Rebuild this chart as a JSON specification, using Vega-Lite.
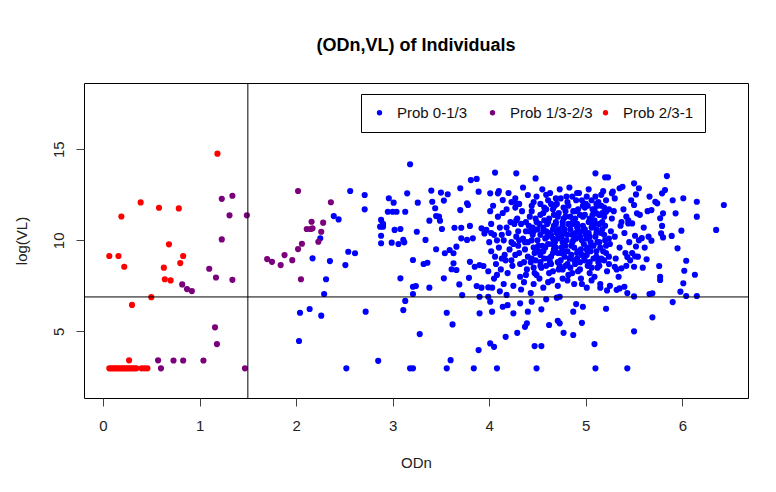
{
"$schema": "https://vega.github.io/schema/vega-lite/v6.json",
"width": 664, "height": 315,
"autosize": {"type": "none"},
"padding": {"left": 84, "top": 83, "right": 28, "bottom": 94},
"background": "white",
"title": {"text": "(ODn,VL) of Individuals", "fontSize": 18, "font": "Liberation Sans", "fontWeight": "bold", "anchor": "middle", "offset": 28, "color": "black"},
"config": {"view": {"stroke": "black", "strokeWidth": 1}, "font": "Liberation Sans"},
"datasets": {
"pts": [
{"x":2.71,"y":12.49,"g":"a"},{"x":2.71,"y":11.70,"g":"a"},{"x":2.56,"y":12.71,"g":"a"},{"x":2.39,"y":11.33,"g":"a"},{"x":2.44,"y":11.15,"g":"a"},{"x":2.54,"y":9.37,"g":"a"},{"x":2.61,"y":9.29,"g":"a"},{"x":2.51,"y":8.64,"g":"a"},{"x":2.35,"y":8.86,"g":"a"},{"x":2.17,"y":9.01,"g":"a"},{"x":2.31,"y":7.86,"g":"a"},{"x":2.29,"y":7.05,"g":"a"},{"x":2.04,"y":6.02,"g":"a"},{"x":2.14,"y":6.23,"g":"a"},{"x":2.26,"y":5.86,"g":"a"},{"x":2.03,"y":4.47,"g":"a"},{"x":2.72,"y":6.08,"g":"a"},{"x":2.52,"y":2.97,"g":"a"},{"x":2.85,"y":3.38,"g":"a"},{"x":3.18,"y":2.97,"g":"a"},{"x":3.21,"y":2.97,"g":"a"},{"x":3.08,"y":7.91,"g":"a"},{"x":3.21,"y":7.45,"g":"a"},{"x":3.24,"y":7.49,"g":"a"},{"x":3.21,"y":7.05,"g":"a"},{"x":3.13,"y":6.67,"g":"a"},{"x":3.11,"y":6.17,"g":"a"},{"x":3.28,"y":4.85,"g":"a"},{"x":3.18,"y":14.18,"g":"a"},{"x":3.15,"y":12.58,"g":"a"},{"x":3.26,"y":12.07,"g":"a"},{"x":2.96,"y":12.31,"g":"a"},{"x":3.01,"y":12.07,"g":"a"},{"x":2.95,"y":11.57,"g":"a"},{"x":3.00,"y":11.57,"g":"a"},{"x":3.04,"y":11.57,"g":"a"},{"x":3.13,"y":11.57,"g":"a"},{"x":2.88,"y":11.12,"g":"a"},{"x":2.90,"y":10.90,"g":"a"},{"x":2.87,"y":10.75,"g":"a"},{"x":2.90,"y":10.75,"g":"a"},{"x":2.88,"y":10.25,"g":"a"},{"x":2.88,"y":9.84,"g":"a"},{"x":3.02,"y":10.57,"g":"a"},{"x":3.08,"y":10.62,"g":"a"},{"x":3.06,"y":9.80,"g":"a"},{"x":2.99,"y":9.87,"g":"a"},{"x":3.11,"y":10.02,"g":"a"},{"x":3.12,"y":9.89,"g":"a"},{"x":3.25,"y":10.47,"g":"a"},{"x":3.34,"y":10.02,"g":"a"},{"x":3.21,"y":8.92,"g":"a"},{"x":3.32,"y":8.70,"g":"a"},{"x":3.36,"y":8.77,"g":"a"},{"x":2.25,"y":10.11,"g":"a"},
{"x":3.40,"y":12.73,"g":"a"},{"x":3.50,"y":12.62,"g":"a"},{"x":3.57,"y":12.53,"g":"a"},{"x":3.53,"y":12.18,"g":"a"},{"x":3.70,"y":12.86,"g":"a"},{"x":3.89,"y":12.67,"g":"a"},{"x":4.01,"y":12.58,"g":"a"},{"x":4.09,"y":12.58,"g":"a"},{"x":3.41,"y":12.12,"g":"a"},{"x":3.44,"y":11.76,"g":"a"},{"x":3.48,"y":11.30,"g":"a"},{"x":3.70,"y":11.66,"g":"a"},{"x":3.77,"y":12.03,"g":"a"},{"x":3.78,"y":11.94,"g":"a"},{"x":3.38,"y":11.08,"g":"a"},{"x":3.45,"y":11.33,"g":"a"},{"x":3.49,"y":11.08,"g":"a"},{"x":3.51,"y":10.62,"g":"a"},{"x":3.64,"y":10.69,"g":"a"},{"x":3.71,"y":10.69,"g":"a"},{"x":3.80,"y":10.79,"g":"a"},{"x":3.92,"y":10.66,"g":"a"},{"x":3.97,"y":10.57,"g":"a"},{"x":3.95,"y":10.38,"g":"a"},{"x":3.45,"y":9.51,"g":"a"},{"x":3.54,"y":9.29,"g":"a"},{"x":3.59,"y":9.47,"g":"a"},{"x":3.63,"y":9.29,"g":"a"},{"x":3.66,"y":9.65,"g":"a"},{"x":3.71,"y":10.11,"g":"a"},{"x":3.77,"y":10.02,"g":"a"},{"x":3.83,"y":10.11,"g":"a"},{"x":3.63,"y":8.74,"g":"a"},{"x":3.66,"y":8.37,"g":"a"},{"x":3.61,"y":8.41,"g":"a"},{"x":3.80,"y":8.82,"g":"a"},{"x":3.85,"y":8.55,"g":"a"},{"x":3.90,"y":8.64,"g":"a"},{"x":3.94,"y":8.59,"g":"a"},{"x":3.53,"y":7.91,"g":"a"},{"x":3.38,"y":7.40,"g":"a"},{"x":3.69,"y":7.58,"g":"a"},{"x":3.79,"y":7.94,"g":"a"},{"x":3.72,"y":6.99,"g":"a"},{"x":3.87,"y":7.49,"g":"a"},{"x":3.92,"y":7.40,"g":"a"},{"x":3.99,"y":7.42,"g":"a"},{"x":3.90,"y":6.90,"g":"a"},{"x":3.99,"y":6.90,"g":"a"},{"x":3.56,"y":6.02,"g":"a"},{"x":3.62,"y":5.38,"g":"a"},{"x":3.90,"y":5.99,"g":"a"},{"x":4.03,"y":6.08,"g":"a"},{"x":4.01,"y":6.63,"g":"a"},{"x":4.14,"y":6.35,"g":"a"},{"x":4.19,"y":6.44,"g":"a"},{"x":4.32,"y":6.54,"g":"a"},{"x":4.25,"y":5.99,"g":"a"},{"x":4.40,"y":6.08,"g":"a"},{"x":4.44,"y":6.63,"g":"a"},{"x":4.54,"y":6.21,"g":"a"},{"x":4.59,"y":6.76,"g":"a"},{"x":4.70,"y":6.85,"g":"a"},{"x":4.73,"y":6.90,"g":"a"},{"x":4.87,"y":6.08,"g":"a"},{"x":4.90,"y":6.50,"g":"a"},{"x":4.97,"y":6.35,"g":"a"},{"x":4.96,"y":5.47,"g":"a"},{"x":4.77,"y":4.92,"g":"a"},{"x":4.87,"y":4.80,"g":"a"},{"x":4.62,"y":5.35,"g":"a"},{"x":4.71,"y":5.58,"g":"a"},{"x":4.73,"y":5.44,"g":"a"},{"x":4.29,"y":4.92,"g":"a"},{"x":4.17,"y":4.70,"g":"a"},{"x":4.39,"y":5.44,"g":"a"},{"x":4.37,"y":5.25,"g":"a"},{"x":3.89,"y":3.97,"g":"a"},{"x":4.01,"y":4.34,"g":"a"},{"x":4.05,"y":4.15,"g":"a"},{"x":3.60,"y":3.42,"g":"a"},{"x":3.56,"y":2.97,"g":"a"},{"x":3.84,"y":2.97,"g":"a"},{"x":4.08,"y":2.97,"g":"a"},{"x":4.49,"y":2.97,"g":"a"},{"x":4.47,"y":4.19,"g":"a"},{"x":4.54,"y":4.19,"g":"a"},{"x":4.06,"y":13.72,"g":"a"},{"x":4.28,"y":13.68,"g":"a"},{"x":4.48,"y":13.40,"g":"a"},{"x":3.81,"y":13.31,"g":"a"},{"x":3.87,"y":13.37,"g":"a"},{"x":4.14,"y":12.21,"g":"a"},{"x":4.27,"y":12.31,"g":"a"},{"x":4.28,"y":12.03,"g":"a"},{"x":4.40,"y":12.49,"g":"a"},
{"x":5.10,"y":13.68,"g":"a"},{"x":5.20,"y":13.46,"g":"a"},{"x":5.23,"y":13.46,"g":"a"},{"x":5.84,"y":13.53,"g":"a"},{"x":6.43,"y":11.94,"g":"a"},{"x":6.35,"y":10.57,"g":"a"},{"x":6.15,"y":12.12,"g":"a"},{"x":6.15,"y":11.30,"g":"a"},{"x":6.01,"y":12.31,"g":"a"},{"x":5.90,"y":12.20,"g":"a"},{"x":5.93,"y":11.48,"g":"a"},{"x":5.99,"y":10.53,"g":"a"},{"x":5.95,"y":9.56,"g":"a"},{"x":6.04,"y":8.88,"g":"a"},{"x":6.02,"y":8.33,"g":"a"},{"x":6.13,"y":8.11,"g":"a"},{"x":6.01,"y":7.64,"g":"a"},{"x":5.98,"y":7.18,"g":"a"},{"x":6.04,"y":6.94,"g":"a"},{"x":6.15,"y":6.94,"g":"a"},{"x":5.90,"y":6.61,"g":"a"},{"x":5.77,"y":8.00,"g":"a"},{"x":5.77,"y":7.82,"g":"a"},{"x":5.76,"y":8.59,"g":"a"},{"x":5.69,"y":5.77,"g":"a"},{"x":5.66,"y":7.05,"g":"a"},{"x":5.69,"y":7.09,"g":"a"},{"x":5.50,"y":5.00,"g":"a"},{"x":5.09,"y":4.30,"g":"a"},{"x":5.10,"y":2.97,"g":"a"},{"x":5.43,"y":2.97,"g":"a"},{"x":5.21,"y":6.24,"g":"a"},{"x":5.50,"y":13.13,"g":"a"},{"x":5.55,"y":12.86,"g":"a"},{"x":5.66,"y":12.40,"g":"a"},{"x":5.72,"y":12.12,"g":"a"},{"x":5.74,"y":12.03,"g":"a"},{"x":5.68,"y":11.66,"g":"a"},{"x":5.79,"y":12.58,"g":"a"},{"x":5.82,"y":12.76,"g":"a"},{"x":5.80,"y":11.48,"g":"a"},{"x":5.77,"y":11.21,"g":"a"},{"x":5.79,"y":10.79,"g":"a"},{"x":5.78,"y":10.38,"g":"a"},{"x":5.80,"y":10.16,"g":"a"},{"x":5.89,"y":10.24,"g":"a"},{"x":5.68,"y":9.98,"g":"a"},{"x":5.63,"y":8.96,"g":"a"},{"x":5.50,"y":8.55,"g":"a"},{"x":5.52,"y":12.52,"g":"a"},{"x":5.50,"y":11.94,"g":"a"},{"x":5.53,"y":11.48,"g":"a"},{"x":5.48,"y":10.93,"g":"a"},{"x":5.51,"y":10.25,"g":"a"},{"x":5.58,"y":10.12,"g":"a"},{"x":5.52,"y":9.66,"g":"a"},{"x":5.48,"y":9.30,"g":"a"},{"x":5.51,"y":9.12,"g":"a"},{"x":5.43,"y":9.08,"g":"a"},{"x":5.38,"y":12.94,"g":"a"},{"x":5.35,"y":12.86,"g":"a"},{"x":5.28,"y":12.67,"g":"a"},{"x":5.27,"y":12.58,"g":"a"},{"x":5.42,"y":11.30,"g":"a"},{"x":5.44,"y":10.93,"g":"a"},{"x":5.30,"y":8.55,"g":"a"},{"x":5.37,"y":8.46,"g":"a"},{"x":5.35,"y":7.36,"g":"a"},{"x":5.40,"y":7.45,"g":"a"},{"x":5.21,"y":11.57,"g":"a"},{"x":5.14,"y":11.39,"g":"a"},{"x":5.11,"y":11.48,"g":"a"},{"x":5.50,"y":6.92,"g":"a"},{"x":5.43,"y":7.10,"g":"a"},{"x":5.32,"y":7.28,"g":"a"},{"x":5.15,"y":7.40,"g":"a"},{"x":5.22,"y":7.25,"g":"a"},
{"x":4.00,"y":9.9,"g":"a"},{"x":4.02,"y":10.9,"g":"a"},{"x":3.99,"y":8.3,"g":"a"},{"x":4.01,"y":11.6,"g":"a"},{"x":4.03,"y":7.4,"g":"a"},
{"x":4.05,"y":10.3,"g":"a"},{"x":4.06,"y":9.1,"g":"a"},{"x":4.04,"y":11.9,"g":"a"},{"x":4.07,"y":8.7,"g":"a"},{"x":4.05,"y":7.9,"g":"a"},
{"x":4.10,"y":9.6,"g":"a"},{"x":4.11,"y":10.7,"g":"a"},{"x":4.09,"y":11.3,"g":"a"},{"x":4.12,"y":8.4,"g":"a"},{"x":4.10,"y":12.7,"g":"a"},{"x":4.11,"y":7.2,"g":"a"},
{"x":4.15,"y":10.0,"g":"a"},{"x":4.16,"y":9.2,"g":"a"},{"x":4.14,"y":11.5,"g":"a"},{"x":4.17,"y":8.9,"g":"a"},{"x":4.15,"y":7.6,"g":"a"},
{"x":4.20,"y":10.4,"g":"a"},{"x":4.21,"y":9.5,"g":"a"},{"x":4.19,"y":8.2,"g":"a"},{"x":4.22,"y":11.0,"g":"a"},{"x":4.20,"y":12.6,"g":"a"},{"x":4.18,"y":7.0,"g":"a"},{"x":4.23,"y":9.9,"g":"a"},
{"x":4.25,"y":9.8,"g":"a"},{"x":4.26,"y":10.9,"g":"a"},{"x":4.24,"y":8.6,"g":"a"},{"x":4.27,"y":11.8,"g":"a"},{"x":4.25,"y":7.5,"g":"a"},{"x":4.28,"y":10.2,"g":"a"},
{"x":4.30,"y":10.5,"g":"a"},{"x":4.31,"y":9.3,"g":"a"},{"x":4.29,"y":11.2,"g":"a"},{"x":4.32,"y":8.0,"g":"a"},{"x":4.30,"y":9.7,"g":"a"},{"x":4.33,"y":7.3,"g":"a"},
{"x":4.35,"y":10.1,"g":"a"},{"x":4.36,"y":8.8,"g":"a"},{"x":4.34,"y":11.6,"g":"a"},{"x":4.37,"y":9.5,"g":"a"},{"x":4.35,"y":12.9,"g":"a"},{"x":4.36,"y":7.7,"g":"a"},
{"x":4.40,"y":9.9,"g":"a"},{"x":4.41,"y":10.8,"g":"a"},{"x":4.39,"y":8.4,"g":"a"},{"x":4.42,"y":11.3,"g":"a"},{"x":4.40,"y":9.1,"g":"a"},{"x":4.43,"y":7.1,"g":"a"},
{"x":4.45,"y":10.3,"g":"a"},{"x":4.46,"y":9.6,"g":"a"},{"x":4.44,"y":11.9,"g":"a"},{"x":4.47,"y":8.2,"g":"a"},{"x":4.45,"y":10.7,"g":"a"},{"x":4.46,"y":7.6,"g":"a"},
{"x":4.50,"y":10.0,"g":"a"},{"x":4.48,"y":8.9,"g":"a"},{"x":4.53,"y":11.4,"g":"a"},{"x":4.51,"y":9.4,"g":"a"},{"x":4.49,"y":12.4,"g":"a"},{"x":4.52,"y":7.9,"g":"a"},{"x":4.50,"y":10.6,"g":"a"},
{"x":4.55,"y":9.7,"g":"a"},{"x":4.56,"y":10.5,"g":"a"},{"x":4.54,"y":8.5,"g":"a"},{"x":4.57,"y":11.1,"g":"a"},{"x":4.55,"y":12.8,"g":"a"},{"x":4.53,"y":9.2,"g":"a"},{"x":4.56,"y":7.4,"g":"a"},
{"x":4.60,"y":10.2,"g":"a"},{"x":4.61,"y":9.0,"g":"a"},{"x":4.59,"y":11.7,"g":"a"},{"x":4.62,"y":8.2,"g":"a"},{"x":4.60,"y":10.9,"g":"a"},{"x":4.58,"y":9.6,"g":"a"},{"x":4.61,"y":12.2,"g":"a"},
{"x":4.65,"y":9.8,"g":"a"},{"x":4.66,"y":10.6,"g":"a"},{"x":4.64,"y":8.7,"g":"a"},{"x":4.67,"y":11.4,"g":"a"},{"x":4.65,"y":7.8,"g":"a"},{"x":4.63,"y":12.6,"g":"a"},{"x":4.66,"y":10.1,"g":"a"},
{"x":4.70,"y":10.4,"g":"a"},{"x":4.71,"y":9.3,"g":"a"},{"x":4.69,"y":11.0,"g":"a"},{"x":4.72,"y":8.4,"g":"a"},{"x":4.70,"y":12.0,"g":"a"},{"x":4.68,"y":9.9,"g":"a"},{"x":4.71,"y":7.5,"g":"a"},
{"x":4.75,"y":9.6,"g":"a"},{"x":4.76,"y":10.8,"g":"a"},{"x":4.74,"y":8.9,"g":"a"},{"x":4.77,"y":11.8,"g":"a"},{"x":4.75,"y":10.2,"g":"a"},{"x":4.73,"y":12.8,"g":"a"},{"x":4.76,"y":7.9,"g":"a"},{"x":4.78,"y":9.1,"g":"a"},
{"x":4.80,"y":10.0,"g":"a"},{"x":4.81,"y":9.4,"g":"a"},{"x":4.79,"y":11.3,"g":"a"},{"x":4.82,"y":8.1,"g":"a"},{"x":4.80,"y":12.4,"g":"a"},{"x":4.78,"y":10.6,"g":"a"},{"x":4.81,"y":8.7,"g":"a"},
{"x":4.85,"y":9.7,"g":"a"},{"x":4.86,"y":10.9,"g":"a"},{"x":4.84,"y":8.5,"g":"a"},{"x":4.87,"y":11.6,"g":"a"},{"x":4.85,"y":9.2,"g":"a"},{"x":4.83,"y":12.9,"g":"a"},{"x":4.86,"y":10.3,"g":"a"},{"x":4.88,"y":7.6,"g":"a"},
{"x":4.90,"y":10.1,"g":"a"},{"x":4.91,"y":9.0,"g":"a"},{"x":4.89,"y":11.2,"g":"a"},{"x":4.92,"y":8.3,"g":"a"},{"x":4.90,"y":12.2,"g":"a"},{"x":4.88,"y":9.6,"g":"a"},{"x":4.91,"y":10.7,"g":"a"},
{"x":4.95,"y":9.5,"g":"a"},{"x":4.96,"y":10.5,"g":"a"},{"x":4.94,"y":8.8,"g":"a"},{"x":4.97,"y":11.9,"g":"a"},{"x":4.95,"y":7.9,"g":"a"},{"x":4.93,"y":12.6,"g":"a"},{"x":4.96,"y":10.0,"g":"a"},
{"x":5.00,"y":10.3,"g":"a"},{"x":5.01,"y":9.2,"g":"a"},{"x":4.99,"y":11.4,"g":"a"},{"x":5.02,"y":8.6,"g":"a"},{"x":5.00,"y":12.0,"g":"a"},{"x":4.98,"y":9.8,"g":"a"},{"x":5.01,"y":7.4,"g":"a"},{"x":5.03,"y":11.0,"g":"a"},
{"x":5.05,"y":9.9,"g":"a"},{"x":5.06,"y":10.7,"g":"a"},{"x":5.04,"y":8.2,"g":"a"},{"x":5.07,"y":11.7,"g":"a"},{"x":5.05,"y":9.4,"g":"a"},{"x":5.03,"y":12.8,"g":"a"},{"x":5.06,"y":7.8,"g":"a"},
{"x":5.10,"y":10.2,"g":"a"},{"x":5.11,"y":9.1,"g":"a"},{"x":5.09,"y":11.1,"g":"a"},{"x":5.12,"y":8.5,"g":"a"},{"x":5.10,"y":12.4,"g":"a"},{"x":5.08,"y":9.7,"g":"a"},{"x":5.11,"y":10.6,"g":"a"},
{"x":5.15,"y":9.6,"g":"a"},{"x":5.16,"y":10.4,"g":"a"},{"x":5.14,"y":8.9,"g":"a"},{"x":5.17,"y":11.5,"g":"a"},{"x":5.15,"y":7.6,"g":"a"},{"x":5.13,"y":12.1,"g":"a"},
{"x":5.20,"y":10.0,"g":"a"},{"x":5.21,"y":9.3,"g":"a"},{"x":5.19,"y":11.8,"g":"a"},{"x":5.22,"y":8.3,"g":"a"},{"x":5.20,"y":10.8,"g":"a"},{"x":5.18,"y":12.7,"g":"a"},
{"x":5.25,"y":9.8,"g":"a"},{"x":5.26,"y":10.5,"g":"a"},{"x":5.24,"y":8.7,"g":"a"},{"x":5.27,"y":11.2,"g":"a"},{"x":5.25,"y":7.5,"g":"a"},
{"x":5.30,"y":10.2,"g":"a"},{"x":5.31,"y":9.0,"g":"a"},{"x":5.29,"y":11.6,"g":"a"},{"x":5.32,"y":8.4,"g":"a"},{"x":5.30,"y":12.3,"g":"a"},
{"x":5.35,"y":9.6,"g":"a"},{"x":5.36,"y":10.8,"g":"a"},{"x":5.34,"y":8.0,"g":"a"},{"x":5.37,"y":11.0,"g":"a"},
{"x":5.40,"y":10.4,"g":"a"},{"x":5.41,"y":9.3,"g":"a"},{"x":5.39,"y":11.7,"g":"a"},{"x":5.42,"y":8.6,"g":"a"},
{"x":5.45,"y":9.9,"g":"a"},{"x":5.46,"y":8.9,"g":"a"},{"x":5.44,"y":11.1,"g":"a"},{"x":5.47,"y":12.2,"g":"a"},
{"x":5.55,"y":10.0,"g":"a"},{"x":5.56,"y":11.4,"g":"a"},{"x":5.54,"y":9.1,"g":"a"},
{"x":5.60,"y":10.7,"g":"a"},{"x":5.61,"y":9.6,"g":"a"},{"x":5.59,"y":8.5,"g":"a"},
{"x":5.65,"y":10.2,"g":"a"},{"x":5.64,"y":11.6,"g":"a"},
{"x":4.52,"y":10.9,"g":"a"},{"x":4.51,"y":9.7,"g":"a"},{"x":4.53,"y":8.6,"g":"a"},{"x":4.57,"y":11.8,"g":"a"},{"x":4.58,"y":10.1,"g":"a"},{"x":4.57,"y":9.0,"g":"a"},{"x":4.62,"y":10.4,"g":"a"},{"x":4.63,"y":8.8,"g":"a"},{"x":4.62,"y":11.2,"g":"a"},{"x":4.67,"y":9.5,"g":"a"},{"x":4.68,"y":11.9,"g":"a"},{"x":4.67,"y":10.8,"g":"a"},{"x":4.72,"y":10.6,"g":"a"},{"x":4.73,"y":8.6,"g":"a"},{"x":4.72,"y":11.5,"g":"a"},{"x":4.77,"y":9.4,"g":"a"},{"x":4.78,"y":10.4,"g":"a"},{"x":4.77,"y":11.2,"g":"a"},{"x":4.82,"y":10.9,"g":"a"},{"x":4.83,"y":9.0,"g":"a"},{"x":4.82,"y":11.9,"g":"a"},{"x":4.87,"y":10.0,"g":"a"},{"x":4.88,"y":8.9,"g":"a"},{"x":4.87,"y":11.1,"g":"a"},{"x":4.92,"y":9.4,"g":"a"},{"x":4.93,"y":10.5,"g":"a"},{"x":4.92,"y":11.7,"g":"a"},{"x":4.97,"y":10.8,"g":"a"},{"x":4.98,"y":9.1,"g":"a"},{"x":4.97,"y":11.3,"g":"a"},{"x":5.02,"y":9.6,"g":"a"},{"x":5.03,"y":10.4,"g":"a"},{"x":5.02,"y":11.9,"g":"a"},{"x":5.07,"y":10.9,"g":"a"},{"x":5.08,"y":9.0,"g":"a"},{"x":5.07,"y":11.4,"g":"a"},{"x":5.12,"y":9.9,"g":"a"},{"x":5.13,"y":8.8,"g":"a"},{"x":5.12,"y":11.9,"g":"a"},{"x":5.17,"y":10.6,"g":"a"},{"x":5.18,"y":9.4,"g":"a"},{"x":5.17,"y":11.0,"g":"a"},{"x":4.27,"y":9.2,"g":"a"},{"x":4.28,"y":11.1,"g":"a"},{"x":4.32,"y":8.7,"g":"a"},{"x":4.33,"y":10.9,"g":"a"},{"x":4.37,"y":9.9,"g":"a"},{"x":4.38,"y":11.0,"g":"a"},{"x":4.42,"y":10.5,"g":"a"},{"x":4.43,"y":8.8,"g":"a"},{"x":4.47,"y":9.3,"g":"a"},{"x":4.48,"y":11.2,"g":"a"},
{"x":4.44,"y":9.0,"g":"a"},{"x":4.44,"y":10.0,"g":"a"},{"x":4.44,"y":11.6,"g":"a"},{"x":4.46,"y":8.5,"g":"a"},{"x":4.46,"y":10.5,"g":"a"},{"x":4.46,"y":12.1,"g":"a"},{"x":4.49,"y":9.6,"g":"a"},{"x":4.49,"y":11.0,"g":"a"},{"x":4.49,"y":8.1,"g":"a"},{"x":4.53,"y":10.3,"g":"a"},{"x":4.53,"y":12.0,"g":"a"},{"x":4.53,"y":8.8,"g":"a"},{"x":4.56,"y":9.4,"g":"a"},{"x":4.56,"y":11.5,"g":"a"},{"x":4.56,"y":10.7,"g":"a"},{"x":4.59,"y":8.6,"g":"a"},{"x":4.59,"y":10.5,"g":"a"},{"x":4.59,"y":12.5,"g":"a"},{"x":4.61,"y":9.8,"g":"a"},{"x":4.61,"y":11.0,"g":"a"},{"x":4.61,"y":7.7,"g":"a"},{"x":4.64,"y":9.1,"g":"a"},{"x":4.64,"y":10.3,"g":"a"},{"x":4.64,"y":12.0,"g":"a"},{"x":4.66,"y":8.3,"g":"a"},{"x":4.66,"y":11.7,"g":"a"},{"x":4.66,"y":9.3,"g":"a"},{"x":4.69,"y":10.9,"g":"a"},{"x":4.69,"y":9.6,"g":"a"},{"x":4.69,"y":12.3,"g":"a"},{"x":4.71,"y":8.8,"g":"a"},{"x":4.71,"y":11.3,"g":"a"},{"x":4.71,"y":10.1,"g":"a"},{"x":4.74,"y":9.3,"g":"a"},{"x":4.74,"y":10.4,"g":"a"},{"x":4.74,"y":12.3,"g":"a"},{"x":4.76,"y":8.4,"g":"a"},{"x":4.76,"y":11.0,"g":"a"},{"x":4.76,"y":9.9,"g":"a"},{"x":4.79,"y":9.7,"g":"a"},{"x":4.79,"y":11.6,"g":"a"},{"x":4.79,"y":8.6,"g":"a"},{"x":4.81,"y":10.3,"g":"a"},{"x":4.81,"y":12.1,"g":"a"},{"x":4.81,"y":7.8,"g":"a"},{"x":4.84,"y":9.0,"g":"a"},{"x":4.84,"y":11.3,"g":"a"},{"x":4.84,"y":10.6,"g":"a"},{"x":4.86,"y":8.2,"g":"a"},{"x":4.86,"y":9.9,"g":"a"},{"x":4.86,"y":12.4,"g":"a"},{"x":4.89,"y":10.4,"g":"a"},{"x":4.89,"y":11.6,"g":"a"},{"x":4.89,"y":8.7,"g":"a"},{"x":4.91,"y":9.3,"g":"a"},{"x":4.91,"y":12.6,"g":"a"},{"x":4.91,"y":10.9,"g":"a"},{"x":4.94,"y":8.4,"g":"a"},{"x":4.94,"y":10.2,"g":"a"},{"x":4.94,"y":11.4,"g":"a"},{"x":4.96,"y":9.2,"g":"a"},{"x":4.96,"y":12.2,"g":"a"},{"x":4.96,"y":7.6,"g":"a"},{"x":4.99,"y":10.6,"g":"a"},{"x":4.99,"y":8.9,"g":"a"},{"x":4.99,"y":11.8,"g":"a"},{"x":5.01,"y":9.5,"g":"a"},{"x":5.01,"y":12.4,"g":"a"},{"x":5.01,"y":10.1,"g":"a"},{"x":5.04,"y":8.8,"g":"a"},{"x":5.04,"y":11.2,"g":"a"},{"x":5.04,"y":10.2,"g":"a"},{"x":5.06,"y":9.7,"g":"a"},{"x":5.06,"y":12.2,"g":"a"},{"x":5.06,"y":8.5,"g":"a"},{"x":5.09,"y":10.9,"g":"a"},{"x":5.09,"y":8.0,"g":"a"},{"x":5.09,"y":11.7,"g":"a"},{"x":5.11,"y":9.4,"g":"a"},{"x":5.11,"y":12.0,"g":"a"},{"x":5.11,"y":10.4,"g":"a"},{"x":5.14,"y":8.6,"g":"a"},{"x":5.14,"y":10.9,"g":"a"},{"x":5.14,"y":9.9,"g":"a"},{"x":5.16,"y":11.9,"g":"a"},{"x":5.16,"y":9.0,"g":"a"},{"x":5.16,"y":12.5,"g":"a"},{"x":5.19,"y":10.3,"g":"a"},{"x":5.19,"y":8.9,"g":"a"},{"x":5.19,"y":11.3,"g":"a"},{"x":5.21,"y":9.7,"g":"a"},{"x":5.21,"y":12.2,"g":"a"},{"x":5.24,"y":10.1,"g":"a"},{"x":5.24,"y":9.1,"g":"a"},{"x":5.24,"y":11.7,"g":"a"},
{"x":4.02,"y":9.4,"g":"a"},{"x":4.02,"y":10.4,"g":"a"},{"x":4.08,"y":10.0,"g":"a"},{"x":4.08,"y":8.1,"g":"a"},{"x":4.13,"y":10.3,"g":"a"},{"x":4.13,"y":9.0,"g":"a"},{"x":4.18,"y":10.7,"g":"a"},{"x":4.18,"y":11.7,"g":"a"},{"x":4.23,"y":8.9,"g":"a"},{"x":4.23,"y":12.1,"g":"a"},{"x":4.31,"y":10.0,"g":"a"},{"x":4.31,"y":12.0,"g":"a"},{"x":4.38,"y":10.5,"g":"a"},{"x":4.38,"y":8.1,"g":"a"},
{"x":2.02,"y":12.71,"g":"b"},{"x":2.36,"y":12.09,"g":"b"},{"x":1.23,"y":12.28,"g":"b"},{"x":1.34,"y":12.45,"g":"b"},{"x":1.31,"y":11.37,"g":"b"},{"x":1.49,"y":11.37,"g":"b"},{"x":1.23,"y":10.05,"g":"b"},{"x":2.16,"y":11.02,"g":"b"},{"x":2.11,"y":10.62,"g":"b"},{"x":2.15,"y":10.62,"g":"b"},{"x":2.17,"y":10.66,"g":"b"},{"x":2.28,"y":10.97,"g":"b"},{"x":2.26,"y":10.47,"g":"b"},{"x":2.06,"y":9.81,"g":"b"},{"x":2.23,"y":9.92,"g":"b"},{"x":2.02,"y":9.52,"g":"b"},{"x":1.88,"y":9.19,"g":"b"},{"x":1.96,"y":8.91,"g":"b"},{"x":1.70,"y":8.97,"g":"b"},{"x":1.75,"y":8.82,"g":"b"},{"x":1.84,"y":8.64,"g":"b"},{"x":2.05,"y":7.86,"g":"b"},{"x":1.10,"y":8.44,"g":"b"},{"x":1.17,"y":7.96,"g":"b"},{"x":1.34,"y":7.83,"g":"b"},{"x":0.82,"y":7.58,"g":"b"},{"x":0.87,"y":7.32,"g":"b"},{"x":0.92,"y":7.21,"g":"b"},{"x":1.16,"y":5.22,"g":"b"},{"x":1.18,"y":4.30,"g":"b"},{"x":0.57,"y":3.41,"g":"b"},{"x":0.73,"y":3.40,"g":"b"},{"x":0.83,"y":3.40,"g":"b"},{"x":1.04,"y":3.40,"g":"b"},{"x":0.60,"y":2.97,"g":"b"},{"x":1.47,"y":2.97,"g":"b"},
{"x":1.185,"y":14.76,"g":"c"},{"x":0.39,"y":12.08,"g":"c"},{"x":0.58,"y":11.79,"g":"c"},{"x":0.785,"y":11.75,"g":"c"},{"x":0.19,"y":11.31,"g":"c"},{"x":0.683,"y":9.78,"g":"c"},{"x":0.065,"y":9.14,"g":"c"},{"x":0.16,"y":9.14,"g":"c"},{"x":0.83,"y":9.14,"g":"c"},{"x":0.22,"y":8.55,"g":"c"},{"x":0.63,"y":8.50,"g":"c"},{"x":0.80,"y":8.75,"g":"c"},{"x":0.64,"y":7.86,"g":"c"},{"x":0.70,"y":7.80,"g":"c"},{"x":0.50,"y":6.88,"g":"c"},{"x":0.30,"y":6.45,"g":"c"},{"x":0.27,"y":3.41,"g":"c"},
{"x":0.065,"y":2.97,"g":"c"},{"x":0.085,"y":2.97,"g":"c"},{"x":0.105,"y":2.97,"g":"c"},{"x":0.125,"y":2.97,"g":"c"},{"x":0.145,"y":2.97,"g":"c"},{"x":0.165,"y":2.97,"g":"c"},{"x":0.185,"y":2.97,"g":"c"},{"x":0.205,"y":2.97,"g":"c"},{"x":0.225,"y":2.97,"g":"c"},{"x":0.245,"y":2.97,"g":"c"},{"x":0.265,"y":2.97,"g":"c"},{"x":0.285,"y":2.97,"g":"c"},{"x":0.305,"y":2.97,"g":"c"},{"x":0.325,"y":2.97,"g":"c"},{"x":0.345,"y":2.97,"g":"c"},{"x":0.40,"y":2.97,"g":"c"},{"x":0.43,"y":2.97,"g":"c"},{"x":0.46,"y":2.97,"g":"c"}
],
"vline": [{"x": 1.5}],
"hline": [{"y": 6.89}]
},
"layer": [
{"data": {"name": "pts"},
 "mark": {"type": "circle", "size": 38, "opacity": 1},
 "encoding": {
  "x": {"field": "x", "type": "quantitative",
   "scale": {"domain": [-0.197, 6.68], "nice": false, "zero": false},
   "axis": {"title": "ODn", "values": [0,1,2,3,4,5,6], "format": "d", "domain": false, "grid": false, "tickSize": 8, "tickColor": "#444", "labelFontSize": 15, "labelPadding": 12, "labelColor": "#222", "labelFlush": false, "titleFontSize": 15, "titleFontWeight": "normal", "titleColor": "#222", "titlePadding": 22}},
  "y": {"field": "y", "type": "quantitative",
   "scale": {"domain": [1.34, 18.64], "nice": false, "zero": false},
   "axis": {"title": "log(VL)", "values": [5,10,15], "domain": false, "grid": false, "tickSize": 8, "tickColor": "#444", "labelAngle": -90, "labelAlign": "center", "labelBaseline": "alphabetic", "labelFontSize": 15, "labelPadding": 13, "labelColor": "#222", "labelFlush": false, "titleFontSize": 15, "titleFontWeight": "normal", "titleColor": "#222", "titlePadding": 22}},
  "color": {"field": "g", "type": "nominal",
   "scale": {"domain": ["a","b","c"], "range": ["#0000FF", "#7B007B", "#FF0000"]},
   "legend": {"title": null, "orient": "none", "legendX": 277, "legendY": 11, "direction": "horizontal", "columns": 3, "gridAlign": "all", "symbolType": "circle", "symbolSize": 28, "symbolOpacity": 1, "labelFontSize": 15, "labelColor": "#111", "labelOffset": 10, "labelLimit": 200, "columnPadding": 5, "padding": 11, "strokeColor": "black", "fillColor": "white",
    "labelExpr": "datum.value == 'a' ? 'Prob 0-1/3' : datum.value == 'b' ? 'Prob 1/3-2/3' : 'Prob 2/3-1'"}}
 }},
{"data": {"name": "vline"}, "mark": {"type": "rule", "color": "black", "strokeWidth": 1},
 "encoding": {"x": {"field": "x", "type": "quantitative"}}},
{"data": {"name": "hline"}, "mark": {"type": "rule", "color": "black", "strokeWidth": 1},
 "encoding": {"y": {"field": "y", "type": "quantitative"}}}
]
}
